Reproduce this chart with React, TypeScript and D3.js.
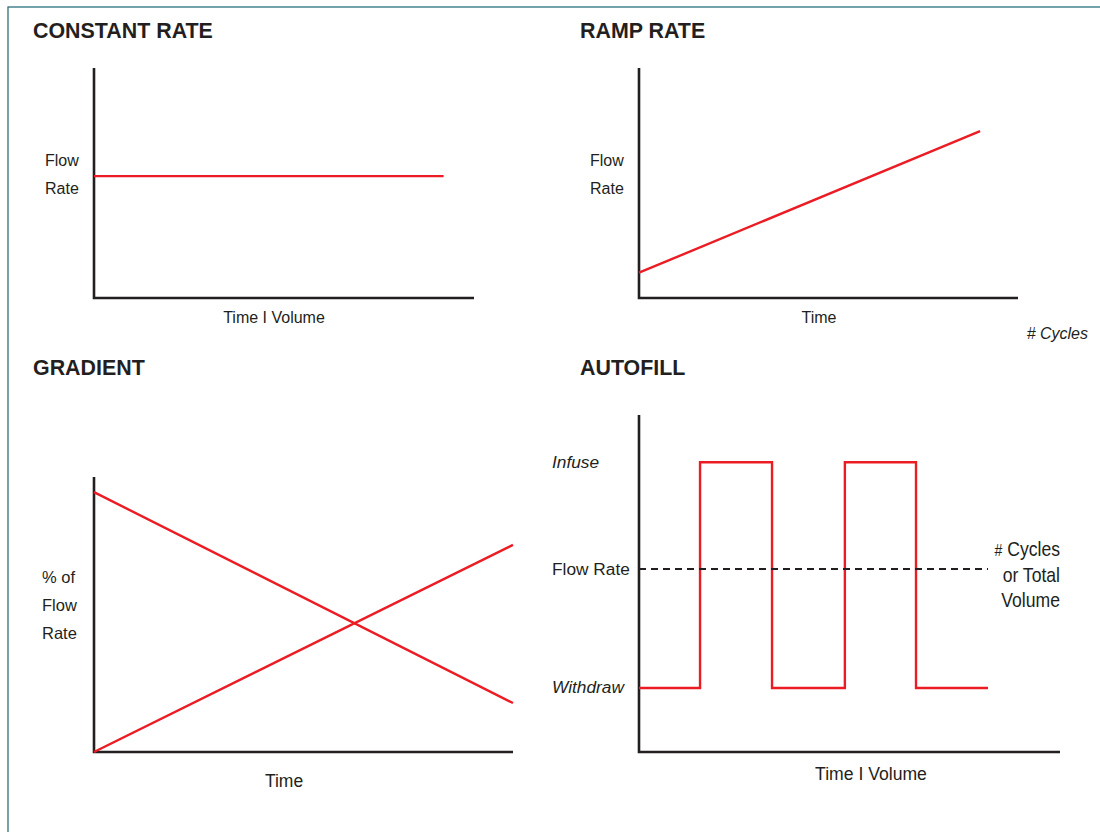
import React from "react";
import * as d3 from "d3";

// ---- data ----
const constantTime = [0, 92];
const constantRate = [53, 53];

const rampTime = [0, 90];
const rampRate = [11, 72.6];

const gradientTime = [0, 100];
const gradientA = [94.5, 17.8];
const gradientB = [0, 75.3];

const autofillTime = [0, 14.5, 31.6, 48.9, 65.8, 82.9];
const autofillLevel = [19, 86, 19, 86, 19, 19];
const autofillFlowRate = 54.3;
const autofillLevelLabels = ["Infuse", "Flow Rate", "Withdraw"];
const autofillLevelValues = [86, 54.3, 19];

const titles = ["CONSTANT RATE", "RAMP RATE", "GRADIENT", "AUTOFILL"];

const RED = "#ec1c24";
const AXIS = "#231f20";
const TEXT = "#231f20";
const FONT = "'Liberation Sans', Arial, Helvetica, sans-serif";

type Panel = { x0: number; x1: number; y0: number; y1: number };

function scales(p: Panel) {
  const x = d3.scaleLinear().domain([0, 100]).range([p.x0, p.x1]);
  const y = d3.scaleLinear().domain([0, 100]).range([p.y0, p.y1]);
  return { x, y };
}

function Axes({ p }: { p: Panel }) {
  return (
    <path
      d={`M${p.x0},${p.y1}V${p.y0}H${p.x1}`}
      fill="none"
      stroke={AXIS}
      strokeWidth={2.6}
    />
  );
}

function series(xs: number[], ys: number[]) {
  return xs.map((t, i) => [t, ys[i]] as [number, number]);
}

export default function App() {
  const pC: Panel = { x0: 94, x1: 474, y0: 298, y1: 68 };
  const pR: Panel = { x0: 639, x1: 1018, y0: 298, y1: 68 };
  const pG: Panel = { x0: 94, x1: 513, y0: 752, y1: 477 };
  const pA: Panel = { x0: 639, x1: 1060, y0: 752, y1: 415 };

  const sC = scales(pC);
  const sR = scales(pR);
  const sG = scales(pG);
  const sA = scales(pA);

  const lineC = d3.line<[number, number]>().x((d) => sC.x(d[0])).y((d) => sC.y(d[1]));
  const lineR = d3.line<[number, number]>().x((d) => sR.x(d[0])).y((d) => sR.y(d[1]));
  const lineG = d3.line<[number, number]>().x((d) => sG.x(d[0])).y((d) => sG.y(d[1]));
  const lineA = d3
    .line<[number, number]>()
    .x((d) => sA.x(d[0]))
    .y((d) => sA.y(d[1]))
    .curve(d3.curveStepAfter);

  const lastT = autofillTime[autofillTime.length - 1];

  return (
    <svg
      width={1100}
      height={832}
      style={{ position: "absolute", left: 0, top: 0, background: "#fff" }}
      fontFamily={FONT}
    >
      <rect x={8} y={7} width={1110} height={840} fill="#fff" stroke="#2b6f7c" strokeWidth={1.3} />

      {/* titles */}
      <g fontWeight="bold" fontSize={21.4} fill={TEXT}>
        <text x={33} y={38}>{titles[0]}</text>
        <text x={580} y={38}>{titles[1]}</text>
        <text x={33} y={375}>{titles[2]}</text>
        <text x={580} y={375}>{titles[3]}</text>
      </g>

      {/* Constant rate */}
      <Axes p={pC} />
      <path d={lineC(series(constantTime, constantRate)) || ""} fill="none" stroke={RED} strokeWidth={2.4} />
      <g fontSize={16} fill={TEXT}>
        <text x={45} y={165.5}>Flow</text>
        <text x={45} y={193.5}>Rate</text>
        <text x={274} y={322.5} textAnchor="middle">Time I Volume</text>
      </g>

      {/* Ramp rate */}
      <Axes p={pR} />
      <path d={lineR(series(rampTime, rampRate)) || ""} fill="none" stroke={RED} strokeWidth={2.4} />
      <g fontSize={16} fill={TEXT}>
        <text x={590} y={165.5}>Flow</text>
        <text x={590} y={193.5}>Rate</text>
        <text x={819} y={322.5} textAnchor="middle">Time</text>
        <text x={1088} y={338.5} textAnchor="end" fontStyle="italic">
          # Cycles
        </text>
      </g>

      {/* Gradient */}
      <Axes p={pG} />
      <path d={lineG(series(gradientTime, gradientA)) || ""} fill="none" stroke={RED} strokeWidth={2.4} />
      <path d={lineG(series(gradientTime, gradientB)) || ""} fill="none" stroke={RED} strokeWidth={2.4} />
      <g fontSize={16.5} fill={TEXT}>
        <text x={42} y={582.5}>% of</text>
        <text x={42} y={610.5}>Flow</text>
        <text x={42} y={638.5}>Rate</text>
        <text x={284} y={786.5} textAnchor="middle" fontSize={17.5}>Time</text>
      </g>

      {/* Autofill */}
      <Axes p={pA} />
      <path
        d={lineA(series(autofillTime, autofillLevel)) || ""}
        fill="none"
        stroke={RED}
        strokeWidth={2.4}
      />
      <line
        x1={sA.x(0)}
        x2={sA.x(lastT)}
        y1={sA.y(autofillFlowRate)}
        y2={sA.y(autofillFlowRate)}
        stroke={AXIS}
        strokeWidth={2}
        strokeDasharray="7 5"
      />
      <g fontSize={17.3} fill={TEXT}>
        {autofillLevelLabels.map((lab, i) => (
          <text
            key={lab}
            x={552}
            y={sA.y(autofillLevelValues[i]) + 5.5}
            fontStyle={lab === "Flow Rate" ? "normal" : "italic"}
          >
            {lab}
          </text>
        ))}
        <text x={871} y={779.5} textAnchor="middle" fontSize={17.6}>Time I Volume</text>
      </g>
      <g
        fontSize={20}
        fill={TEXT}
        textAnchor="end"
        transform="translate(1060,0) scale(0.88,1)"
      >
        <text x={0} y={556}>
          <tspan fontSize={16}>#</tspan> Cycles
        </text>
        <text x={0} y={582}>or Total</text>
        <text x={0} y={607}>Volume</text>
      </g>
    </svg>
  );
}
